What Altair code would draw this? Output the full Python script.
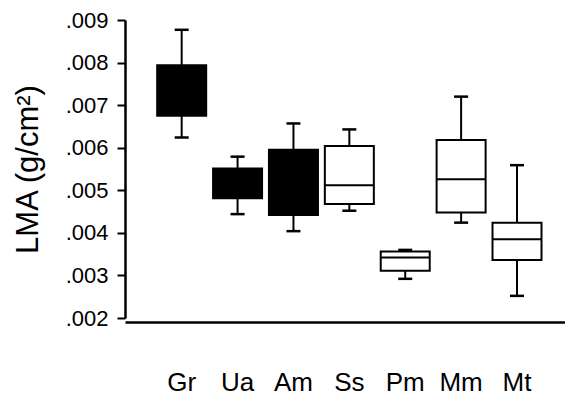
import altair as alt
import pandas as pd

groups = ["Gr", "Ua", "Am", "Ss", "Pm", "Mm", "Mt"]
whisk_hi = [0.00877, 0.00579, 0.00657, 0.00643, 0.00360, 0.00720, 0.00559]
q3 = [0.00794, 0.00551, 0.00595, 0.00604, 0.00356, 0.00618, 0.00424]
median = [0.00730, 0.00516, 0.00520, 0.00512, 0.00342, 0.00526, 0.00385]
q1 = [0.00675, 0.00481, 0.00442, 0.00468, 0.00311, 0.00448, 0.00336]
whisk_lo = [0.00624, 0.00444, 0.00404, 0.00452, 0.00292, 0.00424, 0.00252]
fills = ["black", "black", "black", "white", "white", "white", "white"]
y_ticks = [0.002, 0.003, 0.004, 0.005, 0.006, 0.007, 0.008, 0.009]

df = pd.DataFrame({
    "group": groups, "hi": whisk_hi, "q3": q3, "med": median,
    "q1": q1, "lo": whisk_lo, "fill": fills,
})

FONT = "Liberation Sans"

x = alt.X(
    "group:N", sort=groups, title=None,
    scale=alt.Scale(paddingInner=0, paddingOuter=0.4365, align=0.589),
    axis=alt.Axis(
        labelAngle=0, ticks=False, labelFontSize=26, labelFont=FONT,
        labelColor="black", labelPadding=47, domainColor="black",
        domainWidth=2.5, offset=4,
    ),
)
yscale = alt.Scale(domain=[0.002, 0.009], nice=False, zero=False)
yaxis = alt.Axis(
    values=y_ticks,
    labelExpr="replace(format(datum.value, '.3f'), '0.', '.')",
    labelFontSize=22, labelFont=FONT, labelColor="black", labelPadding=9,
    tickSize=8, tickWidth=2, tickColor="black",
    domainColor="black", domainWidth=2.5, grid=False,
    title="LMA (g/cm²)", titleFontSize=31, titleFont=FONT,
    titleFontWeight="normal", titleColor="black",
    titleX=-97, titleY=149, titleAlign="center", titleBaseline="middle",
    titleAngle=-90,
)

base = alt.Chart(df)

whisk = base.mark_rule(color="black", strokeWidth=2).encode(
    x=x, y=alt.Y("lo:Q", scale=yscale, axis=yaxis), y2="hi:Q"
)
box = base.mark_bar(size=49, stroke="black", strokeWidth=2).encode(
    x=x, y=alt.Y("q1:Q", scale=yscale), y2="q3:Q",
    color=alt.Color("fill:N", scale=None),
)
med = base.mark_tick(size=49, thickness=2, color="black", opacity=1).encode(
    x=x, y=alt.Y("med:Q", scale=yscale)
)
cap_hi = base.mark_tick(size=14, thickness=2.5, color="black", opacity=1).encode(
    x=x, y=alt.Y("hi:Q", scale=yscale)
)
cap_lo = base.mark_tick(size=14, thickness=2.5, color="black", opacity=1).encode(
    x=x, y=alt.Y("lo:Q", scale=yscale)
)

chart = alt.layer(whisk, box, med, cap_hi, cap_lo).properties(
    width=440, height=298,
    autosize=alt.AutoSizeParams(type="none"),
    padding={"left": 117, "top": 12, "right": 0, "bottom": 78},
).configure_view(stroke=None)

chart.save("out.html", embed_options={"renderer": "svg", "actions": False})
